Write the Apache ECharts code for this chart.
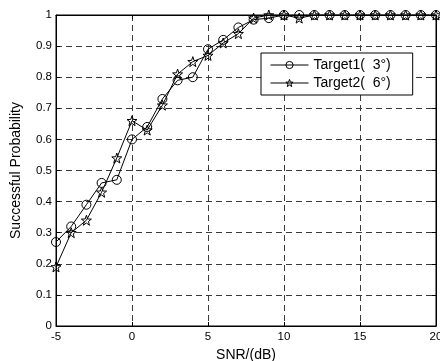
<!DOCTYPE html>
<html>
<head>
<meta charset="utf-8">
<script src="https://cdn.jsdelivr.net/npm/echarts@6/dist/echarts.min.js"></script>
<style>
  html, body { margin: 0; padding: 0; background: #fff; }
  #main { width: 440px; height: 361px; }
</style>
</head>
<body>
<div id="main"></div>
<script>
// SNR 取值
var snr = [-5, -4, -3, -2, -1, 0, 1, 2, 3, 4, 5, 6, 7, 8, 9, 10, 11, 12, 13, 14, 15, 16, 17, 18, 19, 20];
var target1 = [0.27, 0.32, 0.39, 0.46, 0.47, 0.60, 0.64, 0.73, 0.79, 0.80, 0.89, 0.92, 0.96, 0.985, 0.99, 1, 1, 1, 1, 1, 1, 1, 1, 1, 1, 1];
var target2 = [0.19, 0.30, 0.34, 0.43, 0.54, 0.66, 0.63, 0.71, 0.81, 0.85, 0.87, 0.91, 0.94, 0.99, 1, 1, 0.99, 1, 1, 1, 1, 1, 1, 1, 1, 1];
var names = ['Target1(  3°)', 'Target2(  6°)'];

var font = 'Arial, "Liberation Sans", sans-serif';
var star = 'path://M10,0 L12.35,6.76 L19.51,6.91 L13.8,11.24 L15.88,18.09 L10,14 L4.12,18.09 L6.2,11.24 L0.49,6.91 L7.65,6.76 Z';
var clear = 'rgba(255,255,255,0)';

var pairs = function (ys) {
  return snr.map(function (x, i) { return [x, ys[i]]; });
};

var dashed = { show: true, lineStyle: { color: '#3a3a3a', width: 1, type: [6, 4] } };

var myChart = echarts.init(document.getElementById('main'));
myChart.setOption({
  animation: false,
  textStyle: { fontFamily: font, color: '#000' },
  grid: {
    left: 56, right: 4, top: 15, bottom: 35,
    outerBoundsMode: 'none', containLabel: false,
    show: true, borderColor: '#000', borderWidth: 1
  },
  legend: {
    orient: 'vertical',
    left: 261,
    top: 53,
    padding: [5, 22, 5, 9],
    itemGap: 4,
    itemWidth: 38,
    itemHeight: 9,
    backgroundColor: '#fff',
    borderColor: '#000',
    borderWidth: 1,
    lineStyle: { color: '#000', width: 1 },
    itemStyle: { color: clear, borderColor: '#000', borderWidth: 1 },
    textStyle: { fontFamily: font, fontSize: 14, color: '#000' },
    data: names
  },
  xAxis: [{
    type: 'value', min: -5, max: 20, interval: 5,
    name: 'SNR/(dB)', nameLocation: 'middle', nameGap: 21,
    nameTextStyle: { fontSize: 14, color: '#000' },
    axisLine: { onZero: false, lineStyle: { color: '#000' } },
    axisTick: { inside: true, length: 4, lineStyle: { color: '#000' } },
    axisLabel: { fontSize: 11.5, color: '#000', margin: 5 },
    splitLine: dashed
  }, {
    type: 'value', min: -5, max: 20, interval: 5, position: 'top',
    axisLine: { onZero: false, lineStyle: { color: '#000' } },
    axisTick: { inside: true, length: 4, lineStyle: { color: '#000' } },
    axisLabel: { show: false }, splitLine: { show: false }
  }],
  yAxis: [{
    type: 'value', min: 0, max: 1, interval: 0.1,
    name: 'Successful Probability', nameLocation: 'middle', nameGap: 33,
    nameTextStyle: { fontSize: 14, color: '#000' },
    axisLine: { show: true, onZero: false, lineStyle: { color: '#000' } },
    axisTick: { show: true, inside: true, length: 4, lineStyle: { color: '#000' } },
    axisLabel: { fontSize: 11.5, color: '#000', margin: 4 },
    splitLine: dashed
  }, {
    type: 'value', min: 0, max: 1, interval: 0.1, position: 'right',
    axisLine: { show: true, onZero: false, lineStyle: { color: '#000' } },
    axisTick: { show: true, inside: true, length: 4, lineStyle: { color: '#000' } },
    axisLabel: { show: false }, splitLine: { show: false }
  }],
  series: [{
    name: names[0],
    type: 'line',
    data: pairs(target1),
    symbol: 'circle',
    symbolSize: 9,
    showAllSymbol: true,
    lineStyle: { color: '#000', width: 1 },
    itemStyle: { color: clear, borderColor: '#000', borderWidth: 1 }
  }, {
    name: names[1],
    type: 'line',
    data: pairs(target2),
    symbol: star,
    symbolSize: 10,
    showAllSymbol: true,
    lineStyle: { color: '#000', width: 1 },
    itemStyle: { color: clear, borderColor: '#000', borderWidth: 1 }
  }]
});
</script>
</body>
</html>
